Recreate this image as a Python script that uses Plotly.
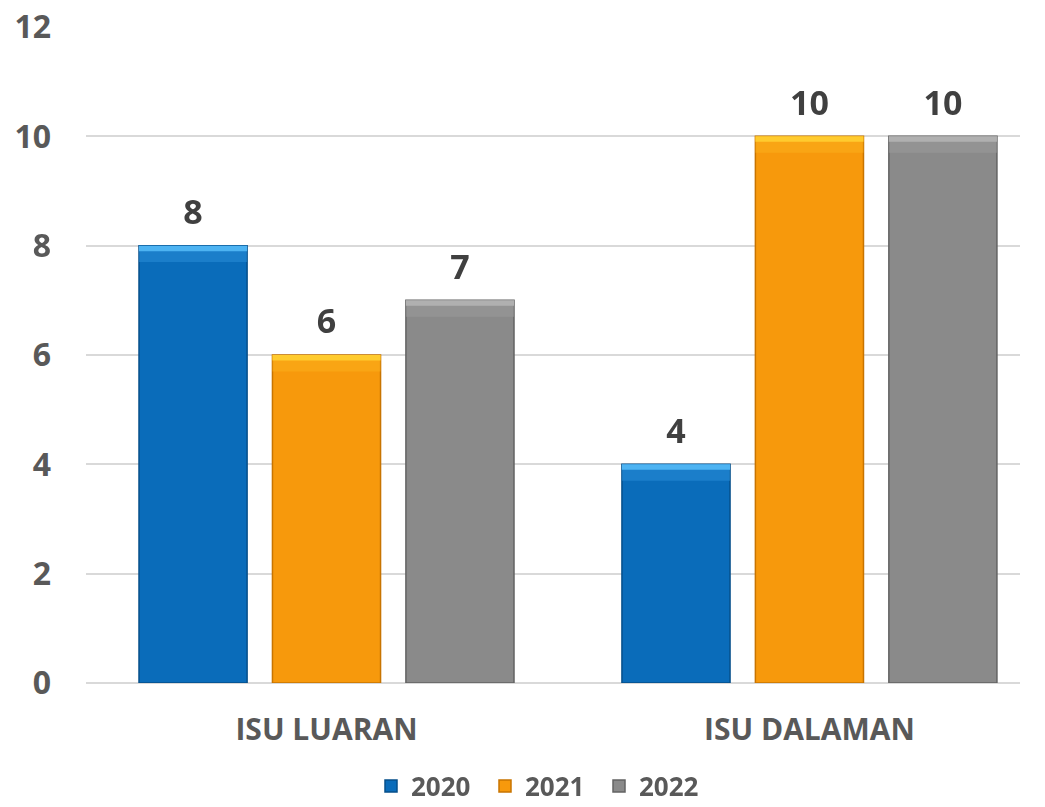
import plotly.graph_objects as go

categories = ["ISU LUARAN", "ISU DALAMAN"]
years = ["2020", "2021", "2022"]
values_2020 = [8, 4]
values_2021 = [6, 10]
values_2022 = [7, 10]
y_ticks = [0, 2, 4, 6, 8, 10, 12]

series = [values_2020, values_2021, values_2022]
fills = ["#0A6CBA", "#F7990C", "#8A8A8A"]
mids = ["#2A8FD8", "#FBB01C", "#9C9C9C"]
tops = ["#4DB3F2", "#FFCB2E", "#B0B0B0"]
edges = ["#064F8A", "#C87400", "#636363"]

FONT = "Open Sans"
TXT = "#595959"
HL_TOP = 0.1    # bright top strip (axis units)
HL_MID = 0.3    # softer bevel band below it
LABEL_PAD = 0.16

fig = go.Figure()
for name, vals, fc, mc, tc, ec in zip(years, series, fills, mids, tops, edges):
    fig.add_trace(go.Bar(
        name=name, x=categories, y=vals, offsetgroup=name,
        marker=dict(color=fc, line=dict(color=ec, width=1.5)),
        hoverinfo="skip",
    ))
    fig.add_trace(go.Bar(
        x=categories, y=[HL_MID] * len(vals), base=[v - HL_MID for v in vals],
        offsetgroup=name, showlegend=False, opacity=0.55,
        marker=dict(color=mc, line=dict(width=0)), hoverinfo="skip",
    ))
    fig.add_trace(go.Bar(
        x=categories, y=[HL_TOP] * len(vals), base=[v - HL_TOP for v in vals],
        offsetgroup=name, showlegend=False,
        marker=dict(color=tc, line=dict(width=0)), hoverinfo="skip",
    ))
    fig.add_trace(go.Bar(
        x=categories, y=[LABEL_PAD] * len(vals), base=vals,
        offsetgroup=name, showlegend=False,
        marker=dict(color="rgba(0,0,0,0)", line=dict(width=0)),
        text=[str(v) for v in vals], textposition="outside",
        textfont=dict(family=FONT, size=34, color="#404040", weight="bold"),
        cliponaxis=False, hoverinfo="skip",
    ))

fig.update_layout(
    width=1045, height=807,
    paper_bgcolor="white", plot_bgcolor="white",
    margin=dict(l=86, r=25, t=27, b=124),
    barmode="group", bargap=0.171, bargroupgap=0.19,
    font=dict(family=FONT, color=TXT),
    showlegend=True,
    legend=dict(orientation="h", xref="container", yref="container",
                x=(384 - 13) / 1045, xanchor="left", y=21 / 807, yanchor="middle",
                font=dict(family=FONT, size=26, color=TXT, weight="bold"),
                entrywidth=69, entrywidthmode="pixels", traceorder="normal"),
    xaxis=dict(range=[-0.498, 1.436], showgrid=False, showline=False, ticks="",
               automargin=False,
               tickfont=dict(family=FONT, size=30, color=TXT, weight="bold"),
               ticklabelstandoff=26),
    yaxis=dict(range=[0, 12], tickvals=y_ticks, showgrid=True, gridcolor="#D9D9D9",
               gridwidth=1.5, zeroline=True, zerolinecolor="#D9D9D9", zerolinewidth=2,
               showline=False, ticks="", automargin=False,
               tickfont=dict(family=FONT, size=32, color=TXT, weight="bold"),
               ticklabelstandoff=34),
)

fig.write_html("out.html", config={"displayModeBar": False},
               post_script="document.body.style.margin='0';")
